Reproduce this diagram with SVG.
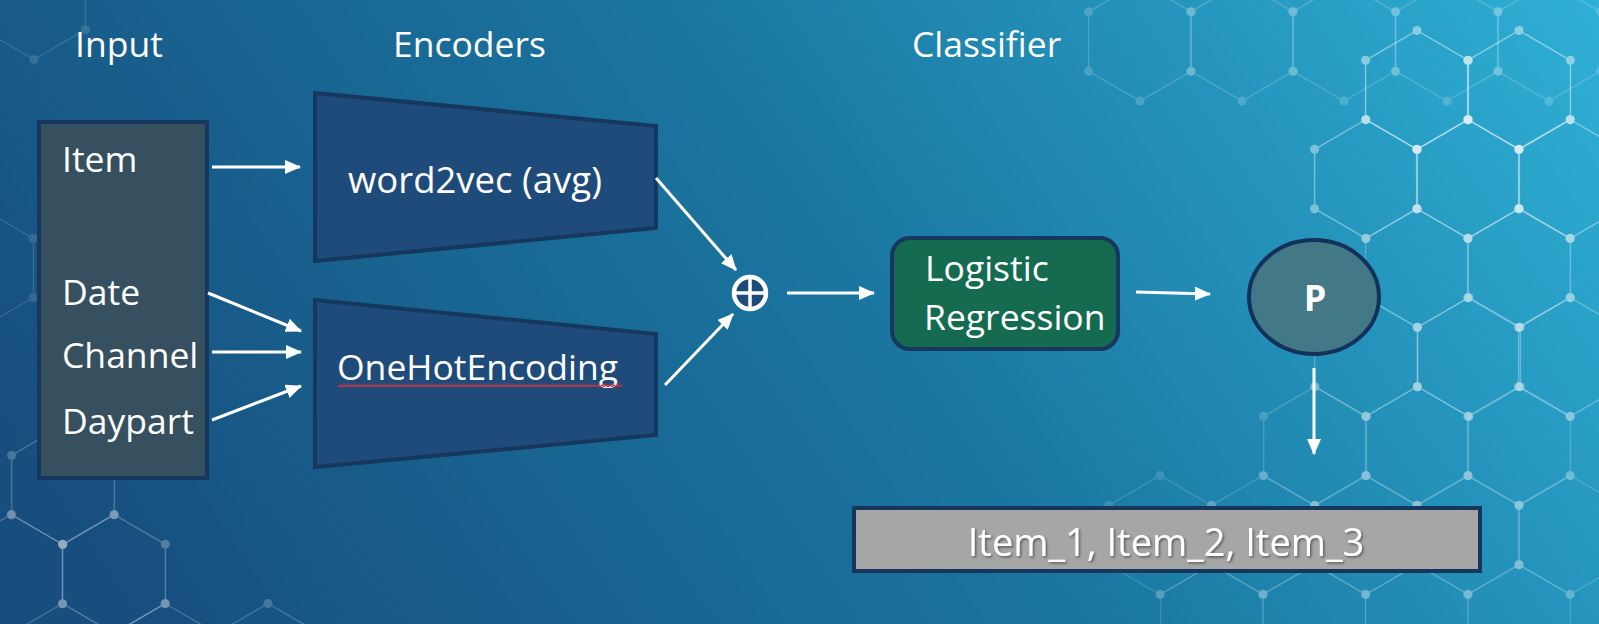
<svg xmlns="http://www.w3.org/2000/svg" xmlns:xlink="http://www.w3.org/1999/xlink" width="1599" height="624" viewBox="0 0 1599 624">
<defs>
<linearGradient id="bg" gradientUnits="userSpaceOnUse" x1="200" y1="720" x2="1500" y2="-160">
<stop offset="0" stop-color="#174e7e"/>
<stop offset="0.5" stop-color="#1a76a0"/>
<stop offset="1" stop-color="#2fb0d6"/>
</linearGradient>
<g id="hx">
<polygon points="0,-59.5 51.4,-29.7 51.4,29.7 0,59.5 -51.4,29.7 -51.4,-29.7" fill="none" stroke="#ffffff" stroke-width="1.4"/>
<circle cx="0" cy="-59.5" r="4.5" fill="#ffffff"/>
<circle cx="51.4" cy="-29.7" r="4.5" fill="#ffffff"/>
<circle cx="51.4" cy="29.7" r="4.5" fill="#ffffff"/>
<circle cx="0" cy="59.5" r="4.5" fill="#ffffff"/>
<circle cx="-51.4" cy="29.7" r="4.5" fill="#ffffff"/>
<circle cx="-51.4" cy="-29.7" r="4.5" fill="#ffffff"/>
</g>
<marker id="ah" markerUnits="userSpaceOnUse" markerWidth="16" markerHeight="14" viewBox="0 0 16 14" refX="15" refY="7" orient="auto">
<path d="M0,0 L16,7 L0,14 z" fill="#ffffff"/>
</marker>
<pattern id="squig" patternUnits="userSpaceOnUse" width="4" height="4">
<path d="M0,3 L2,1 L4,3" fill="none" stroke="#d8303a" stroke-width="1.3"/>
</pattern>
<filter id="sh" x="-10%" y="-30%" width="120%" height="160%">
<feDropShadow dx="1.5" dy="1.5" stdDeviation="1.2" flood-color="#000000" flood-opacity="0.45"/>
</filter>
</defs>
<style>
text { font-family: "Open Sans", "Noto Sans", "Liberation Sans", sans-serif; fill: #ffffff; }
.t { font-size: 35.5px; }
.box { stroke: #16375e; stroke-width: 4; }
.conn line { stroke: #ffffff; stroke-width: 3; marker-end: url(#ah); }
</style>

<rect x="0" y="0" width="1599" height="624" fill="url(#bg)"/>

<g id="background-hexagons">
<use xlink:href="#hx" x="1140" y="41.5" opacity="0.18"/>
<use xlink:href="#hx" x="1242" y="41.5" opacity="0.18"/>
<use xlink:href="#hx" x="1344" y="41.5" opacity="0.18"/>
<use xlink:href="#hx" x="1447" y="41.5" opacity="0.18"/>
<use xlink:href="#hx" x="1549" y="41.5" opacity="0.18"/>
<use xlink:href="#hx" x="1417" y="90" opacity="0.45"/>
<use xlink:href="#hx" x="1519" y="90" opacity="0.45"/>
<use xlink:href="#hx" x="1366" y="179" opacity="0.4"/>
<use xlink:href="#hx" x="1468" y="179" opacity="0.4"/>
<use xlink:href="#hx" x="1570" y="179" opacity="0.4"/>
<use xlink:href="#hx" x="1519" y="268" opacity="0.3"/>
<use xlink:href="#hx" x="1417" y="268" opacity="0.2"/>
<use xlink:href="#hx" x="1366" y="357" opacity="0.25"/>
<use xlink:href="#hx" x="1469" y="357" opacity="0.3"/>
<use xlink:href="#hx" x="1570" y="357" opacity="0.3"/>
<use xlink:href="#hx" x="1315" y="446" opacity="0.18"/>
<use xlink:href="#hx" x="1417" y="446" opacity="0.2"/>
<use xlink:href="#hx" x="1519" y="446" opacity="0.2"/>
<use xlink:href="#hx" x="1160" y="535" opacity="0.14"/>
<use xlink:href="#hx" x="1263" y="535" opacity="0.16"/>
<use xlink:href="#hx" x="1366" y="535" opacity="0.18"/>
<use xlink:href="#hx" x="1468" y="535" opacity="0.18"/>
<use xlink:href="#hx" x="1570" y="535" opacity="0.18"/>
<use xlink:href="#hx" x="1212" y="624" opacity="0.13"/>
<use xlink:href="#hx" x="1314" y="624" opacity="0.13"/>
<use xlink:href="#hx" x="1417" y="624" opacity="0.13"/>
<use xlink:href="#hx" x="1519" y="624" opacity="0.13"/>
<use xlink:href="#hx" x="63" y="485" opacity="0.22"/>
<use xlink:href="#hx" x="114" y="574" opacity="0.26"/>
<use xlink:href="#hx" x="11" y="574" opacity="0.2"/>
<use xlink:href="#hx" x="165" y="663" opacity="0.2"/>
<use xlink:href="#hx" x="268" y="663" opacity="0.2"/>
<use xlink:href="#hx" x="-18" y="268" opacity="0.13"/>
<use xlink:href="#hx" x="34" y="0" opacity="0.13"/>
</g>

<g id="titles">
<text class="t" x="75" y="57">Input</text>
<text class="t" x="393" y="57">Encoders</text>
<text class="t" x="912" y="57">Classifier</text>
</g>

<g id="input">
<rect x="39" y="122" width="168" height="356" fill="#36505f" class="box"/>
<text class="t" x="62" y="172">Item</text>
<text class="t" x="62" y="305">Date</text>
<text class="t" x="62" y="368">Channel</text>
<text class="t" x="62" y="434">Daypart</text>
</g>

<g id="word2vec">
<polygon points="315,93 656,126 656,228 315,261" fill="#1f4b7b" class="box"/>
<text x="348" y="193" style="font-size:36.5px">word2vec (avg)</text>
</g>

<g id="onehot">
<polygon points="315,300 656,334 656,435 315,467" fill="#1f4b7b" class="box"/>
<text class="t" x="337" y="380">OneHotEncoding</text>
<rect x="338" y="383" width="284" height="4" fill="url(#squig)"/>
</g>

<g id="concat">
<circle cx="750" cy="293" r="16" fill="#1f4b7b" stroke="#ffffff" stroke-width="4.5"/>
<line x1="734" y1="293" x2="766" y2="293" stroke="#ffffff" stroke-width="3.5"/>
<line x1="750" y1="277" x2="750" y2="309" stroke="#ffffff" stroke-width="3.5"/>
</g>

<g id="logistic">
<rect x="892" y="238" width="226" height="111" rx="18" ry="18" fill="#146b4f" class="box"/>
<text class="t" x="925" y="281">Logistic</text>
<text class="t" x="924" y="330">Regression</text>
</g>

<g id="p">
<ellipse cx="1314" cy="297" rx="65" ry="57" fill="#437887" stroke="#13325a" stroke-width="4"/>
<text x="1315" y="311" text-anchor="middle" style="font-size:36px;font-weight:bold">P</text>
</g>

<g id="output">
<rect x="854" y="508" width="626" height="63" fill="#a6a6a6" stroke="#17365d" stroke-width="4"/>
<text x="1166" y="556" text-anchor="middle" style="font-size:38px" filter="url(#sh)">Item_1, Item_2, Item_3</text>
</g>

<g id="connectors" class="conn">
<line x1="212" y1="167" x2="300" y2="167"/>
<line x1="208" y1="293" x2="301" y2="331"/>
<line x1="212" y1="352" x2="301" y2="352"/>
<line x1="212" y1="420" x2="301" y2="386"/>
<line x1="656" y1="178" x2="736" y2="270"/>
<line x1="665" y1="385" x2="733" y2="314"/>
<line x1="787" y1="293" x2="874" y2="293"/>
<line x1="1136" y1="292" x2="1210" y2="294"/>
<line x1="1314" y1="368" x2="1314" y2="454"/>
</g>
</svg>
